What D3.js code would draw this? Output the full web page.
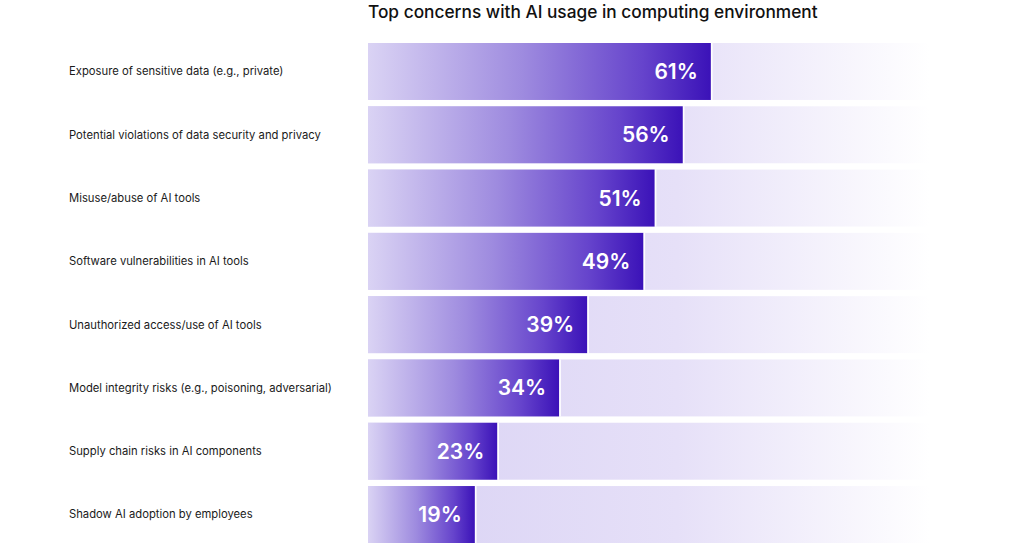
<!DOCTYPE html>
<html><head><meta charset="utf-8">
<script src="https://cdn.jsdelivr.net/npm/d3@7"></script>
<style>html,body{margin:0;padding:0;background:#fff;}svg{display:block;font-family:Inter,"Noto Sans",sans-serif;}</style>
</head><body>
<svg id="chart" width="1024" height="550"></svg>
<script>
const title = "Top concerns with AI usage in computing environment";
const categories = [
  "Exposure of sensitive data (e.g., private)",
  "Potential violations of data security and privacy",
  "Misuse/abuse of AI tools",
  "Software vulnerabilities in AI tools",
  "Unauthorized access/use of AI tools",
  "Model integrity risks (e.g., poisoning, adversarial)",
  "Supply chain risks in AI components",
  "Shadow AI adoption by employees"
];
const values = [61, 56, 51, 49, 39, 34, 23, 19];

const svg = d3.select("#chart");
const x = d3.scaleLinear().domain([0, 100]).range([368, 930]);
const y = d3.scaleBand().domain(categories).range([43, 543]).paddingInner(0.1).paddingOuter(0);

const defs = svg.append("defs");
const bg = defs.append("linearGradient").attr("id", "trackGrad").attr("x1", "0").attr("x2", "1").attr("y1", "0").attr("y2", "0");
bg.append("stop").attr("offset", "0").attr("stop-color", "#d9d2f4");
bg.append("stop").attr("offset", "0.55").attr("stop-color", "#e6e0f8");
bg.append("stop").attr("offset", "1").attr("stop-color", "#ffffff");
const fg = defs.append("linearGradient").attr("id", "barGrad").attr("x1", "0").attr("x2", "1").attr("y1", "0").attr("y2", "0");
fg.append("stop").attr("offset", "0").attr("stop-color", "#dad3f4");
fg.append("stop").attr("offset", "0.45").attr("stop-color", "#9e8bdf");
fg.append("stop").attr("offset", "0.8").attr("stop-color", "#6644cc");
fg.append("stop").attr("offset", "1").attr("stop-color", "#3b12b8");

svg.append("text").attr("x", 368).attr("y", 18)
  .attr("font-size", 17.3).attr("font-weight", 500).attr("fill", "#111").text(title);

const rows = svg.append("g").selectAll("g").data(categories).join("g");

rows.append("rect").attr("x", x(0)).attr("y", d => y(d))
  .attr("width", x(100) - x(0)).attr("height", y.bandwidth())
  .attr("fill", "url(#trackGrad)");

rows.append("rect").attr("x", x(0)).attr("y", d => y(d))
  .attr("width", (d, i) => x(values[i]) - x(0)).attr("height", y.bandwidth())
  .attr("fill", "url(#barGrad)");

rows.append("line")
  .attr("x1", (d, i) => x(values[i]) + 1).attr("x2", (d, i) => x(values[i]) + 1)
  .attr("y1", d => y(d)).attr("y2", d => y(d) + y.bandwidth())
  .attr("stroke", "#ffffff").attr("stroke-width", 1.5);

rows.append("text").attr("x", (d, i) => x(values[i]) - 13)
  .attr("y", d => y(d) + y.bandwidth() / 2).attr("dy", "0.36em")
  .attr("text-anchor", "end").attr("font-size", 21).attr("font-weight", 600)
  .attr("fill", "#ffffff").text((d, i) => values[i] + "%");

rows.append("text").attr("x", 69)
  .attr("y", d => y(d) + y.bandwidth() / 2).attr("dy", "0.35em")
  .attr("font-size", 11.25).attr("fill", "#1a1a1a").text(d => d);
</script>
</body></html>
